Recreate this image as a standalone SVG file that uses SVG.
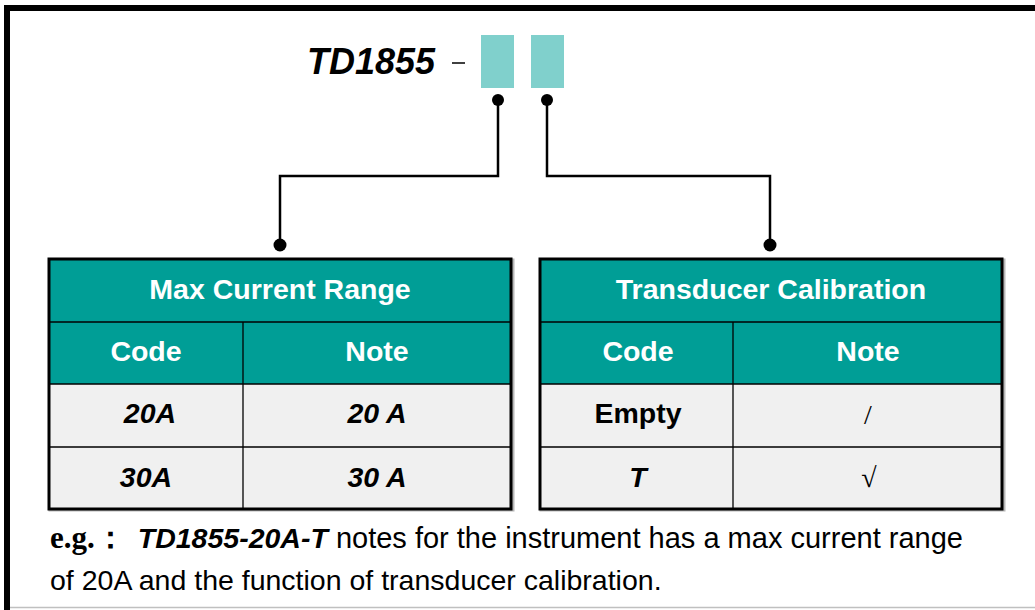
<svg xmlns="http://www.w3.org/2000/svg" width="1035" height="610" viewBox="0 0 1035 610">
<style>
.hdr{fill:#009e96}
.row{fill:#f0f0f0}
.outline{fill:none;stroke:#000;stroke-width:3}
.shadow{fill:none;stroke:#b8b8b8;stroke-width:3}
.grid{stroke:#000;stroke-width:1.3}
.wt{font-family:"Liberation Sans",Arial,sans-serif;font-weight:bold;font-size:28.5px;fill:#fff;text-anchor:middle}
.bt{font-family:"Liberation Sans",Arial,sans-serif;font-weight:bold;font-size:28.5px;fill:#000;text-anchor:middle}
.it{font-style:italic}
.sym{font-family:"Liberation Serif",serif;font-size:28px;fill:#000;text-anchor:middle}
.conn{fill:none;stroke:#000;stroke-width:2.5}
.slot{fill:#80d0cc}
</style>
<rect width="1035" height="610" fill="#fff"/>
<path d="M7,610 V8 H1035" fill="none" stroke="#000" stroke-width="6"/>
<line x1="10" y1="607.5" x2="1035" y2="607.5" stroke="#c0c0c0" stroke-width="1.5"/>

<g id="code">
<text x="435" y="74" font-family="Liberation Sans,Arial,sans-serif" font-weight="bold" font-style="italic" font-size="36" text-anchor="end">TD1855</text>
<line x1="452" y1="63" x2="465" y2="63" stroke="#000" stroke-width="1.5"/>
<rect class="slot" x="481" y="35" width="33" height="53"/>
<rect class="slot" x="531" y="35" width="33" height="53"/>
</g>

<g id="connectors">
<circle cx="498" cy="100" r="6"/>
<circle cx="547" cy="100" r="6"/>
<path class="conn" d="M498,100 V176 H280 V245"/>
<path class="conn" d="M547,100 V176 H770 V245"/>
<circle cx="280" cy="245" r="6.5"/>
<circle cx="770" cy="245" r="6.5"/>
</g>

<g id="table-range">
<rect class="shadow" x="50" y="260" width="463" height="250"/>
<rect class="hdr" x="49" y="259" width="462" height="125"/>
<rect class="row" x="49" y="384" width="462" height="125"/>
<line class="grid" x1="49" y1="322" x2="511" y2="322"/>
<line class="grid" x1="49" y1="384" x2="511" y2="384"/>
<line class="grid" x1="49" y1="447" x2="511" y2="447"/>
<line class="grid" x1="243" y1="322" x2="243" y2="509"/>
<rect class="outline" x="49" y="259" width="462" height="250"/>
<text class="wt" x="280" y="299">Max Current Range</text>
<text class="wt" x="146" y="361">Code</text>
<text class="wt" x="377" y="361">Note</text>
<text class="bt it" x="150" y="423">20A</text>
<text class="bt it" x="377" y="423">20 A</text>
<text class="bt it" x="146" y="487">30A</text>
<text class="bt it" x="377" y="487">30 A</text>
</g>

<g id="table-calib">
<rect class="shadow" x="541" y="260" width="463" height="250"/>
<rect class="hdr" x="540" y="259" width="462" height="125"/>
<rect class="row" x="540" y="384" width="462" height="125"/>
<line class="grid" x1="540" y1="322" x2="1002" y2="322"/>
<line class="grid" x1="540" y1="384" x2="1002" y2="384"/>
<line class="grid" x1="540" y1="447" x2="1002" y2="447"/>
<line class="grid" x1="733" y1="322" x2="733" y2="509"/>
<rect class="outline" x="540" y="259" width="462" height="250"/>
<text class="wt" x="771" y="299">Transducer Calibration</text>
<text class="wt" x="638" y="361">Code</text>
<text class="wt" x="868" y="361">Note</text>
<text class="bt" x="638" y="423">Empty</text>
<text class="sym" x="868" y="424">/</text>
<text class="bt it" x="638" y="487">T</text>
<text class="sym" x="869" y="487">√</text>
</g>

<g id="example" font-family="Liberation Sans,Arial,sans-serif" font-size="28.5" fill="#000">
<text x="50" y="548"><tspan font-family="Liberation Serif,serif" font-weight="bold" font-size="31">e.g.：</tspan><tspan dx="12" font-weight="bold" font-style="italic">TD1855-20A-T</tspan><tspan font-size="29"> notes for the instrument has a max current range</tspan></text>
<text x="50" y="590">of 20A and the function of transducer calibration.</text>
</g>
</svg>
